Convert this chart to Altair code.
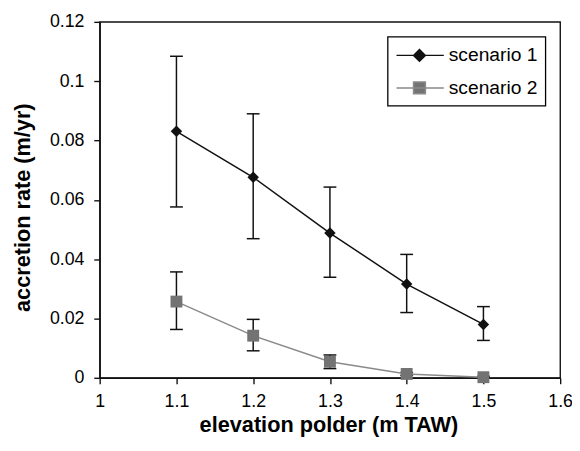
import altair as alt
import pandas as pd

# ---- data ----
elevation = [1.1, 1.2, 1.3, 1.4, 1.5]
series_names = ["scenario 1", "scenario 2"]
s1_rate = [0.0831, 0.0676, 0.0488, 0.0316, 0.0180]
s1_low = [0.0576, 0.0469, 0.0339, 0.0220, 0.0126]
s1_high = [0.1084, 0.0890, 0.0643, 0.0416, 0.0240]
s2_rate = [0.0257, 0.0142, 0.0054, 0.0013, 0.0002]
s2_low = [0.0163, 0.0091, 0.0031, 0.0008, 0.0000]
s2_high = [0.0357, 0.0197, 0.0077, 0.0018, 0.0005]
x_ticks = [1.0, 1.1, 1.2, 1.3, 1.4, 1.5, 1.6]
y_ticks = [0.0, 0.02, 0.04, 0.06, 0.08, 0.10, 0.12]

rows = []
for name, rate, low, high in [
    (series_names[0], s1_rate, s1_low, s1_high),
    (series_names[1], s2_rate, s2_low, s2_high),
]:
    for e, r, lo, hi in zip(elevation, rate, low, high):
        rows.append({"series": name, "elev": e, "rate": r, "low": lo, "high": hi})
df = pd.DataFrame(rows)

FONT = "Liberation Sans"
line_colors = ["#111111", "#8a8a8a"]
fill_colors = ["#111111", "#737373"]
# legend symbols (1 unit = 10 px at size 400): line segment with marker in its middle
leg_diamond = "M-1,0H3.8M1.33,-0.6L1.93,0L1.33,0.6L0.73,0Z"
leg_square = "M-1,0H3.8M0.73,-0.6H1.93V0.6H0.73Z"

x_axis = alt.Axis(
    values=x_ticks, format="~g", title="elevation polder (m TAW)",
    labelPadding=9, titleX=232, titleY=54, titleBaseline="alphabetic",
)
y_axis = alt.Axis(
    values=y_ticks, format="~g", title="accretion rate (m/yr)",
    labelPadding=10, titleX=-71, titleY=188, titleBaseline="alphabetic",
)
x_scale = alt.Scale(domain=[1.0, 1.6], nice=False, zero=False)
y_scale = alt.Scale(domain=[0, 0.12], nice=False)

fill_scale = alt.Scale(domain=series_names, range=fill_colors)
stroke_scale = alt.Scale(domain=series_names, range=line_colors)
shape_scale = alt.Scale(domain=series_names, range=[leg_diamond, leg_square])

base = alt.Chart(df)

leg = alt.Legend(
    title=None,
    orient="none",
    legendX=292,
    legendY=15,
    strokeColor="black",
    fillColor="white",
    padding=8,
    labelFont=FONT,
    labelFontSize=19.5,
    labelColor="black",
    labelOffset=32,
    symbolSize=400,
    symbolStrokeWidth=1.5,
    rowPadding=12,
)

# legend-only layer: no rows drawn, it only supplies the legend
legend_layer = base.transform_filter("false").mark_point(
    size=400, opacity=1, strokeWidth=1.5
).encode(
    x=alt.X("elev:Q", scale=x_scale, axis=x_axis),
    y=alt.Y("rate:Q", scale=y_scale, axis=y_axis),
    fill=alt.Fill("series:N", scale=fill_scale, legend=leg),
    stroke=alt.Stroke("series:N", scale=stroke_scale, legend=leg),
    shape=alt.Shape("series:N", scale=shape_scale, legend=leg),
)

err_rule = base.mark_rule(color="#111111", strokeWidth=1.5).encode(
    x=alt.X("elev:Q", scale=x_scale, axis=x_axis),
    y=alt.Y("low:Q", scale=y_scale, axis=y_axis),
    y2="high:Q",
)
cap_low = base.mark_tick(
    orient="horizontal", color="#111111", size=13, thickness=1.5, opacity=1
).encode(x="elev:Q", y="low:Q")
cap_high = base.mark_tick(
    orient="horizontal", color="#111111", size=13, thickness=1.5, opacity=1
).encode(x="elev:Q", y="high:Q")

s1 = base.transform_filter(alt.datum.series == series_names[0])
s2 = base.transform_filter(alt.datum.series == series_names[1])

line1 = s1.mark_line(color=line_colors[0], strokeWidth=1.5).encode(x="elev:Q", y="rate:Q")
line2 = s2.mark_line(color=line_colors[1], strokeWidth=1.5).encode(x="elev:Q", y="rate:Q")

pts1 = s1.mark_point(
    shape="diamond", size=135, filled=True, fill=fill_colors[0], opacity=1, strokeWidth=0
).encode(x="elev:Q", y="rate:Q")
pts2 = s2.mark_point(
    shape="square", size=145, filled=True, fill=fill_colors[1], opacity=1, strokeWidth=0
).encode(x="elev:Q", y="rate:Q")

chart = (
    alt.layer(legend_layer, err_rule, cap_low, cap_high, line1, line2, pts1, pts2)
    .properties(
        width=467,
        height=361,
        autosize=alt.AutoSizeParams(type="none"),
        padding={"left": 93, "top": 11, "right": 12, "bottom": 58},
        background="white",
    )
    .configure_view(stroke="#111111", strokeWidth=1.4)
    .configure_axis(
        grid=False,
        domainColor="#111111",
        domainWidth=1.4,
        tickColor="#111111",
        tickWidth=1.4,
        tickSize=6,
        labelFont=FONT,
        labelFontSize=18,
        labelColor="black",
        labelFlush=False,
        labelOverlap=False,
        titleFont=FONT,
        titleFontSize=22,
        titleFontWeight="bold",
        titleColor="black",
    )
    .configure_legend(strokeWidth=1.3)
)

chart.save("out.html", embed_options={"renderer": "svg", "actions": False})
